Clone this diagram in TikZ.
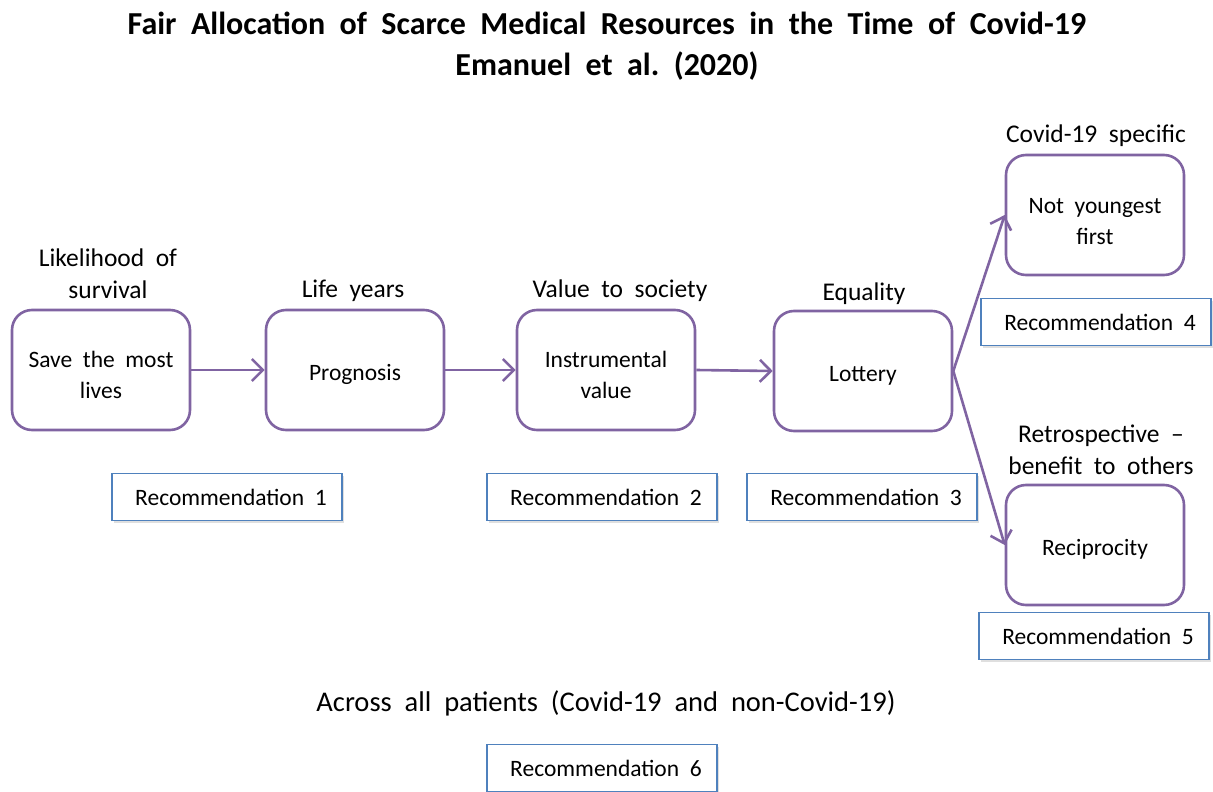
\documentclass[tikz,border=0pt]{standalone}
\usepackage{fontspec}
\setmainfont{Carlito}[WordSpace=2]
\usetikzlibrary{arrows.meta,shadows}
\definecolor{boxpurple}{HTML}{8064A2}
\definecolor{recblue}{HTML}{4F81BD}
\tikzset{
  pbox/.style={draw=boxpurple, line width=2.6pt, rounded corners=20pt, minimum width=178pt, minimum height=120pt, fill=white},
  ptext/.style={align=center, font=\fontsize{23.5}{31}\selectfont},
  rbox/.style={draw=recblue, line width=1.8pt, minimum width=230pt, minimum height=47pt, font=\fontsize{23.5}{28}\selectfont, fill=white, drop shadow={opacity=0.25, shadow xshift=1.5pt, shadow yshift=-2pt}},
  lbl/.style={align=center, font=\fontsize{25.5}{32}\selectfont},
  conn/.style={draw=boxpurple, line width=2.6pt, -{Straight Barb[length=11pt,width=22pt]}},
}
\begin{document}
\frenchspacing
\begin{tikzpicture}[x=1pt,y=-1pt]
\useasboundingbox (0,0) rectangle (1213,792);
% title
\node[font=\fontsize{32}{41}\selectfont\bfseries, align=center] (title) at (607,46) {Fair Allocation of Scarce Medical Resources in the Time of Covid-19\\Emanuel et al. (2020)};
% purple boxes
\node[pbox] (save) at (101,370) {};
\node[pbox] (prog) at (355,370) {};
\node[pbox] (instr) at (606,370) {};
\node[pbox] (lott) at (863,371) {};
\node[pbox] (young) at (1095,215) {};
\node[pbox] (recip) at (1095,545) {};
\node[ptext] (savet) at ([yshift=-4.5pt]save.center) {Save the most\\lives};
\node[ptext] (progt) at ([yshift=-4.5pt]prog.center) {Prognosis};
\node[ptext] (instrt) at ([yshift=-4.5pt]instr.center) {Instrumental\\value};
\node[ptext] (lottt) at ([yshift=-4.5pt]lott.center) {Lottery};
\node[ptext] (youngt) at ([yshift=-7pt]young.center) {Not youngest\\first};
\node[ptext] (recipt) at ([yshift=-4.5pt]recip.center) {Reciprocity};
% labels
\node[lbl] (l1) at (108,274) {Likelihood of\\survival};
\node[lbl] (l2) at (353,291) {Life years};
\node[lbl] (l3) at (620,291) {Value to society};
\node[lbl] (l4) at (864,294) {Equality};
\node[lbl] (l5) at (1096,136) {Covid-19 specific};
\node[lbl] (l6) at (1101,450) {Retrospective –\\benefit to others};
\node[lbl, font=\fontsize{28.5}{34}\selectfont] (l7) at (606,703) {Across all patients (Covid-19 and non-Covid-19)};
% recommendations
\node[rbox] (r1) at (227,497) {\hspace*{8pt}Recommendation 1};
\node[rbox] (r2) at (602,497) {\hspace*{8pt}Recommendation 2};
\node[rbox] (r3) at (862,497) {\hspace*{8pt}Recommendation 3};
\node[rbox] (r4) at (1096,322) {\hspace*{8pt}Recommendation 4};
\node[rbox] (r5) at (1094,636) {\hspace*{8pt}Recommendation 5};
\node[rbox] (r6) at (602,768) {\hspace*{8pt}Recommendation 6};
% connectors
\draw[conn] (save.east) -- (prog.west);
\draw[conn] (prog.east) -- (instr.west);
\draw[conn] (instr.east) -- (lott.west);
\draw[conn] (lott.east) -- (young.west);
\draw[conn] (lott.east) -- (recip.west);
\end{tikzpicture}
\end{document}
